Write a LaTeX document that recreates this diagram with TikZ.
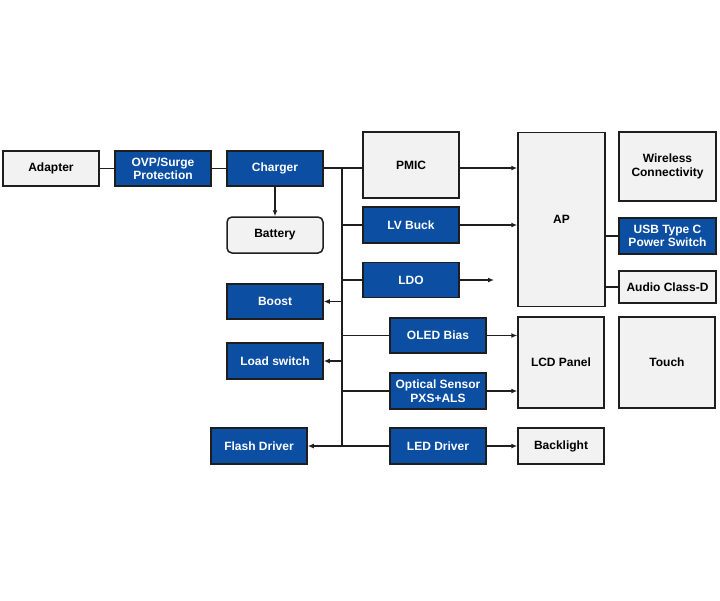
\documentclass[tikz,border=0pt]{standalone}
\usepackage{fontspec}
\setmainfont{Liberation Sans}
\usetikzlibrary{arrows.meta,positioning}
\definecolor{pblue}{HTML}{0B4EA2}
\definecolor{pgray}{HTML}{F2F2F2}
\definecolor{pline}{HTML}{1E1E1E}

\begin{document}
\begin{tikzpicture}[x=1pt, y=-1pt,
  bx/.style={draw=pline, line width=1.5pt, fill=pgray, align=center,
             inner sep=0pt, minimum width=96pt, minimum height=35pt,
             font=\fontsize{12}{13.5}\selectfont\bfseries, text=black},
  bl/.style={bx, fill=pblue, text=white},
  ln/.style={draw=pline, line width=1.5pt},
  ar/.style={ln, -{Latex[length=6pt,width=5pt]}}]
\useasboundingbox (0,0) rectangle (720,600);
% input chain
\node[bx] (adapter) at (51,168.5) {Adapter};
\node[bl] (ovp) at (163,168.5) {OVP/Surge\\Protection};
\node[bl] (charger) at (275,168.5) {Charger};
\node[bx, rounded corners=5pt, minimum height=36pt] (battery) at (275,235) {Battery};
% regulators
\node[bx, minimum height=66pt] (pmic) at (411,165) {PMIC};
\node[bl, minimum height=36pt] (lvbuck) at (411,225) {LV Buck};
\node[bl] (ldo) at (411,280) {LDO};
\node[bl] (boost) at (275,301.5) {Boost};
\node[bl, minimum height=36pt] (loadsw) at (275,361) {Load switch};
\node[bl, minimum height=36pt] (flash) at (259,446) {Flash Driver};
\node[bl] (oled) at (438,335.5) {OLED Bias};
\node[bl, minimum height=36pt] (optical) at (438,391) {Optical Sensor\\PXS+ALS};
\node[bl, minimum height=36pt] (led) at (438,446) {LED Driver};
% loads
\node[bx, minimum width=87pt, minimum height=174pt] (ap) at (561.5,219.5) {AP};
\node[bx, minimum width=97pt, minimum height=69pt] (wireless) at (667.5,166.5) {Wireless\\Connectivity};
\node[bl, minimum width=97pt, minimum height=36pt] (usb) at (667.5,236) {USB Type C\\Power Switch};
\node[bx, minimum width=97pt, minimum height=32pt] (audio) at (667.5,287) {Audio Class-D};
\node[bx, minimum width=86pt, minimum height=91pt] (lcd) at (561,362.5) {LCD Panel};
\node[bx, minimum height=91pt] (touch) at (667,362.5) {Touch};
\node[bx, minimum width=86pt, minimum height=36pt] (backlight) at (561,446) {Backlight};
\coordinate (bustop) at (342,168);
\coordinate (busbot) at (342,446);
\coordinate (ldoend) at (494,280);

\draw[ln] (adapter) -- (ovp);
\draw[ln] (ovp) -- (charger);
\draw[ar] (charger) -- (battery);
\draw[ln] (charger.east |- bustop) -- (pmic.west |- bustop);
\draw[ln] (bustop) -- (busbot);
\draw[ln] (bustop |- lvbuck) -- (lvbuck);
\draw[ln] (bustop |- ldo) -- (ldo);
\draw[ln] (bustop |- oled) -- (oled);
\draw[ln] (bustop |- optical) -- (optical);
\draw[ln] (busbot) -- (led);
\draw[ar] (bustop |- boost) -- (boost);
\draw[ar] (bustop |- loadsw) -- (loadsw);
\draw[ar] (busbot) -- (flash);
\draw[ar] (ldo) -- (ldoend);
\draw[ar] (pmic.east |- bustop) -- (ap.west |- bustop);
\draw[ar] (lvbuck) -- (lvbuck -| ap.west);
\draw[ln] (ap.east |- usb) -- (usb);
\draw[ln] (ap.east |- audio) -- (audio);
\draw[ar] (oled) -- (oled -| lcd.west);
\draw[ar] (optical) -- (optical -| lcd.west);
\draw[ar] (led) -- (backlight);
\end{tikzpicture}
\end{document}
